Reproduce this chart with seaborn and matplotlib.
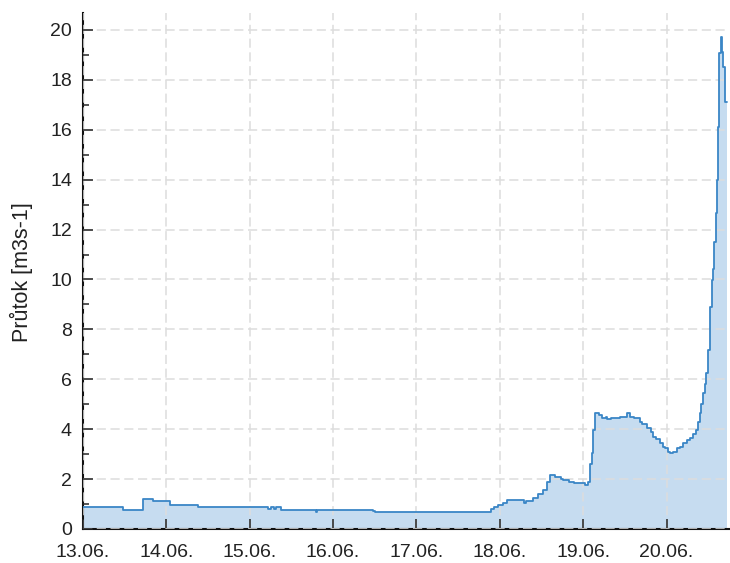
import pandas as pd
import matplotlib.pyplot as plt
import matplotlib.dates as mdates
from matplotlib.ticker import MultipleLocator
import seaborn as sns

# --- DATA (hours since 13.06. 00:00, flow in m3/s) ---
hours = [
    0, 11.5, 17.3, 20.2, 25, 33, 53.3, 54, 55, 55.5, 57, 67, 67.4, 83.5, 84, 84.4,
    117.5, 118.2, 119.5, 121, 122.2, 127, 127.5, 129.5, 131, 132.3, 133.5, 134.4,
    136, 137.5, 138.2, 140, 141.5, 143, 144.5, 145.5, 146, 146.4, 146.8, 147.3,
    148.5, 149.5, 150.5, 151, 152, 154.5, 156.5, 157.5, 158.5, 160.3, 161, 162.5,
    163.5, 164.2, 165, 166, 167, 167.5, 168.5, 169, 170, 170.9, 172, 172.8, 174,
    174.7, 175.5, 176.6, 177.2, 177.6, 178, 178.6, 179, 179.5, 180, 180.5, 181,
    181.3, 181.7, 182.2, 182.4, 182.7, 183.1, 183.6, 184.0, 184.3, 184.8, 185.4,
]
flow = [
    0.89, 0.76, 1.2, 1.13, 0.98, 0.9, 0.82, 0.9, 0.82, 0.9, 0.76, 0.7, 0.76, 0.72, 0.67, 0.67,
    0.8, 0.89, 0.96, 1.05, 1.16, 1.04, 1.13, 1.25, 1.4, 1.56, 1.9, 2.16,
    2.1, 2.0, 1.96, 1.9, 1.85, 1.84, 1.76, 1.9, 2.6, 3.03, 3.97, 4.64,
    4.55, 4.44, 4.5, 4.4, 4.44, 4.5, 4.64, 4.5, 4.44, 4.3, 4.2, 4.04,
    3.9, 3.7, 3.6, 3.43, 3.3, 3.23, 3.1, 3.03, 3.1, 3.23, 3.3, 3.43, 3.55,
    3.63, 3.8, 3.97, 4.3, 4.64, 5.0, 5.44, 5.8, 6.24, 7.17, 8.9, 9.98,
    10.4, 11.5, 12.65, 14.0, 16.1, 19.07, 19.7, 19.1, 18.5, 17.1, 17.1,
]
start = pd.Timestamp("2020-06-13 00:00")
y_label = "Průtok [m3s-1]"

LINE = "#3a86c6"
FILL = "#c6dcf0"

df = pd.DataFrame({"time": start + pd.to_timedelta(hours, unit="h"), "flow": flow})

sns.set_style("ticks")
plt.rcParams["font.family"] = ["Liberation Sans", "DejaVu Sans"]

fig = plt.figure(figsize=(7.30, 5.63), dpi=100)
ax = fig.add_axes([0.1137, 0.0604, 0.885, 0.9166])

ax.fill_between(df["time"], 0, df["flow"], step="post", color=FILL, lw=0, zorder=1)
sns.lineplot(data=df, x="time", y="flow", ax=ax, color=LINE, lw=1.3,
             drawstyle="steps-post", zorder=4)

ax.set_xlim(start, start + pd.Timedelta(hours=186))
ax.set_ylim(0, 20.68)

ax.xaxis.set_major_locator(mdates.DayLocator())
ax.xaxis.set_major_formatter(mdates.DateFormatter("%d.%m."))
ax.yaxis.set_major_locator(MultipleLocator(2))
ax.yaxis.set_minor_locator(MultipleLocator(1))

# grid sits above the fill but under the line
ax.grid(True, which="major", color="#dddddd", linestyle=(0, (6, 3)), lw=1.1)
ax.set_axisbelow(False)
for gl in ax.get_xgridlines() + ax.get_ygridlines():
    gl.set_zorder(2)

ax.tick_params(which="major", direction="in", length=7, width=1.1,
               labelsize=14, colors="#222222")
ax.tick_params(axis="y", which="major", pad=8)
ax.tick_params(axis="x", which="major", pad=11)
ax.tick_params(which="minor", direction="in", length=4, width=1.1)

for side in ["top", "right"]:
    ax.spines[side].set_visible(False)
for side in ["left", "bottom"]:
    ax.spines[side].set_linewidth(1.5)
    ax.spines[side].set_color("#111111")

ax.set_xlabel("")
ax.set_ylabel(y_label, fontsize=15.5, color="#222222")
ax.yaxis.set_label_coords(-0.078, 0.498)

fig.savefig("out.png", dpi=100)
